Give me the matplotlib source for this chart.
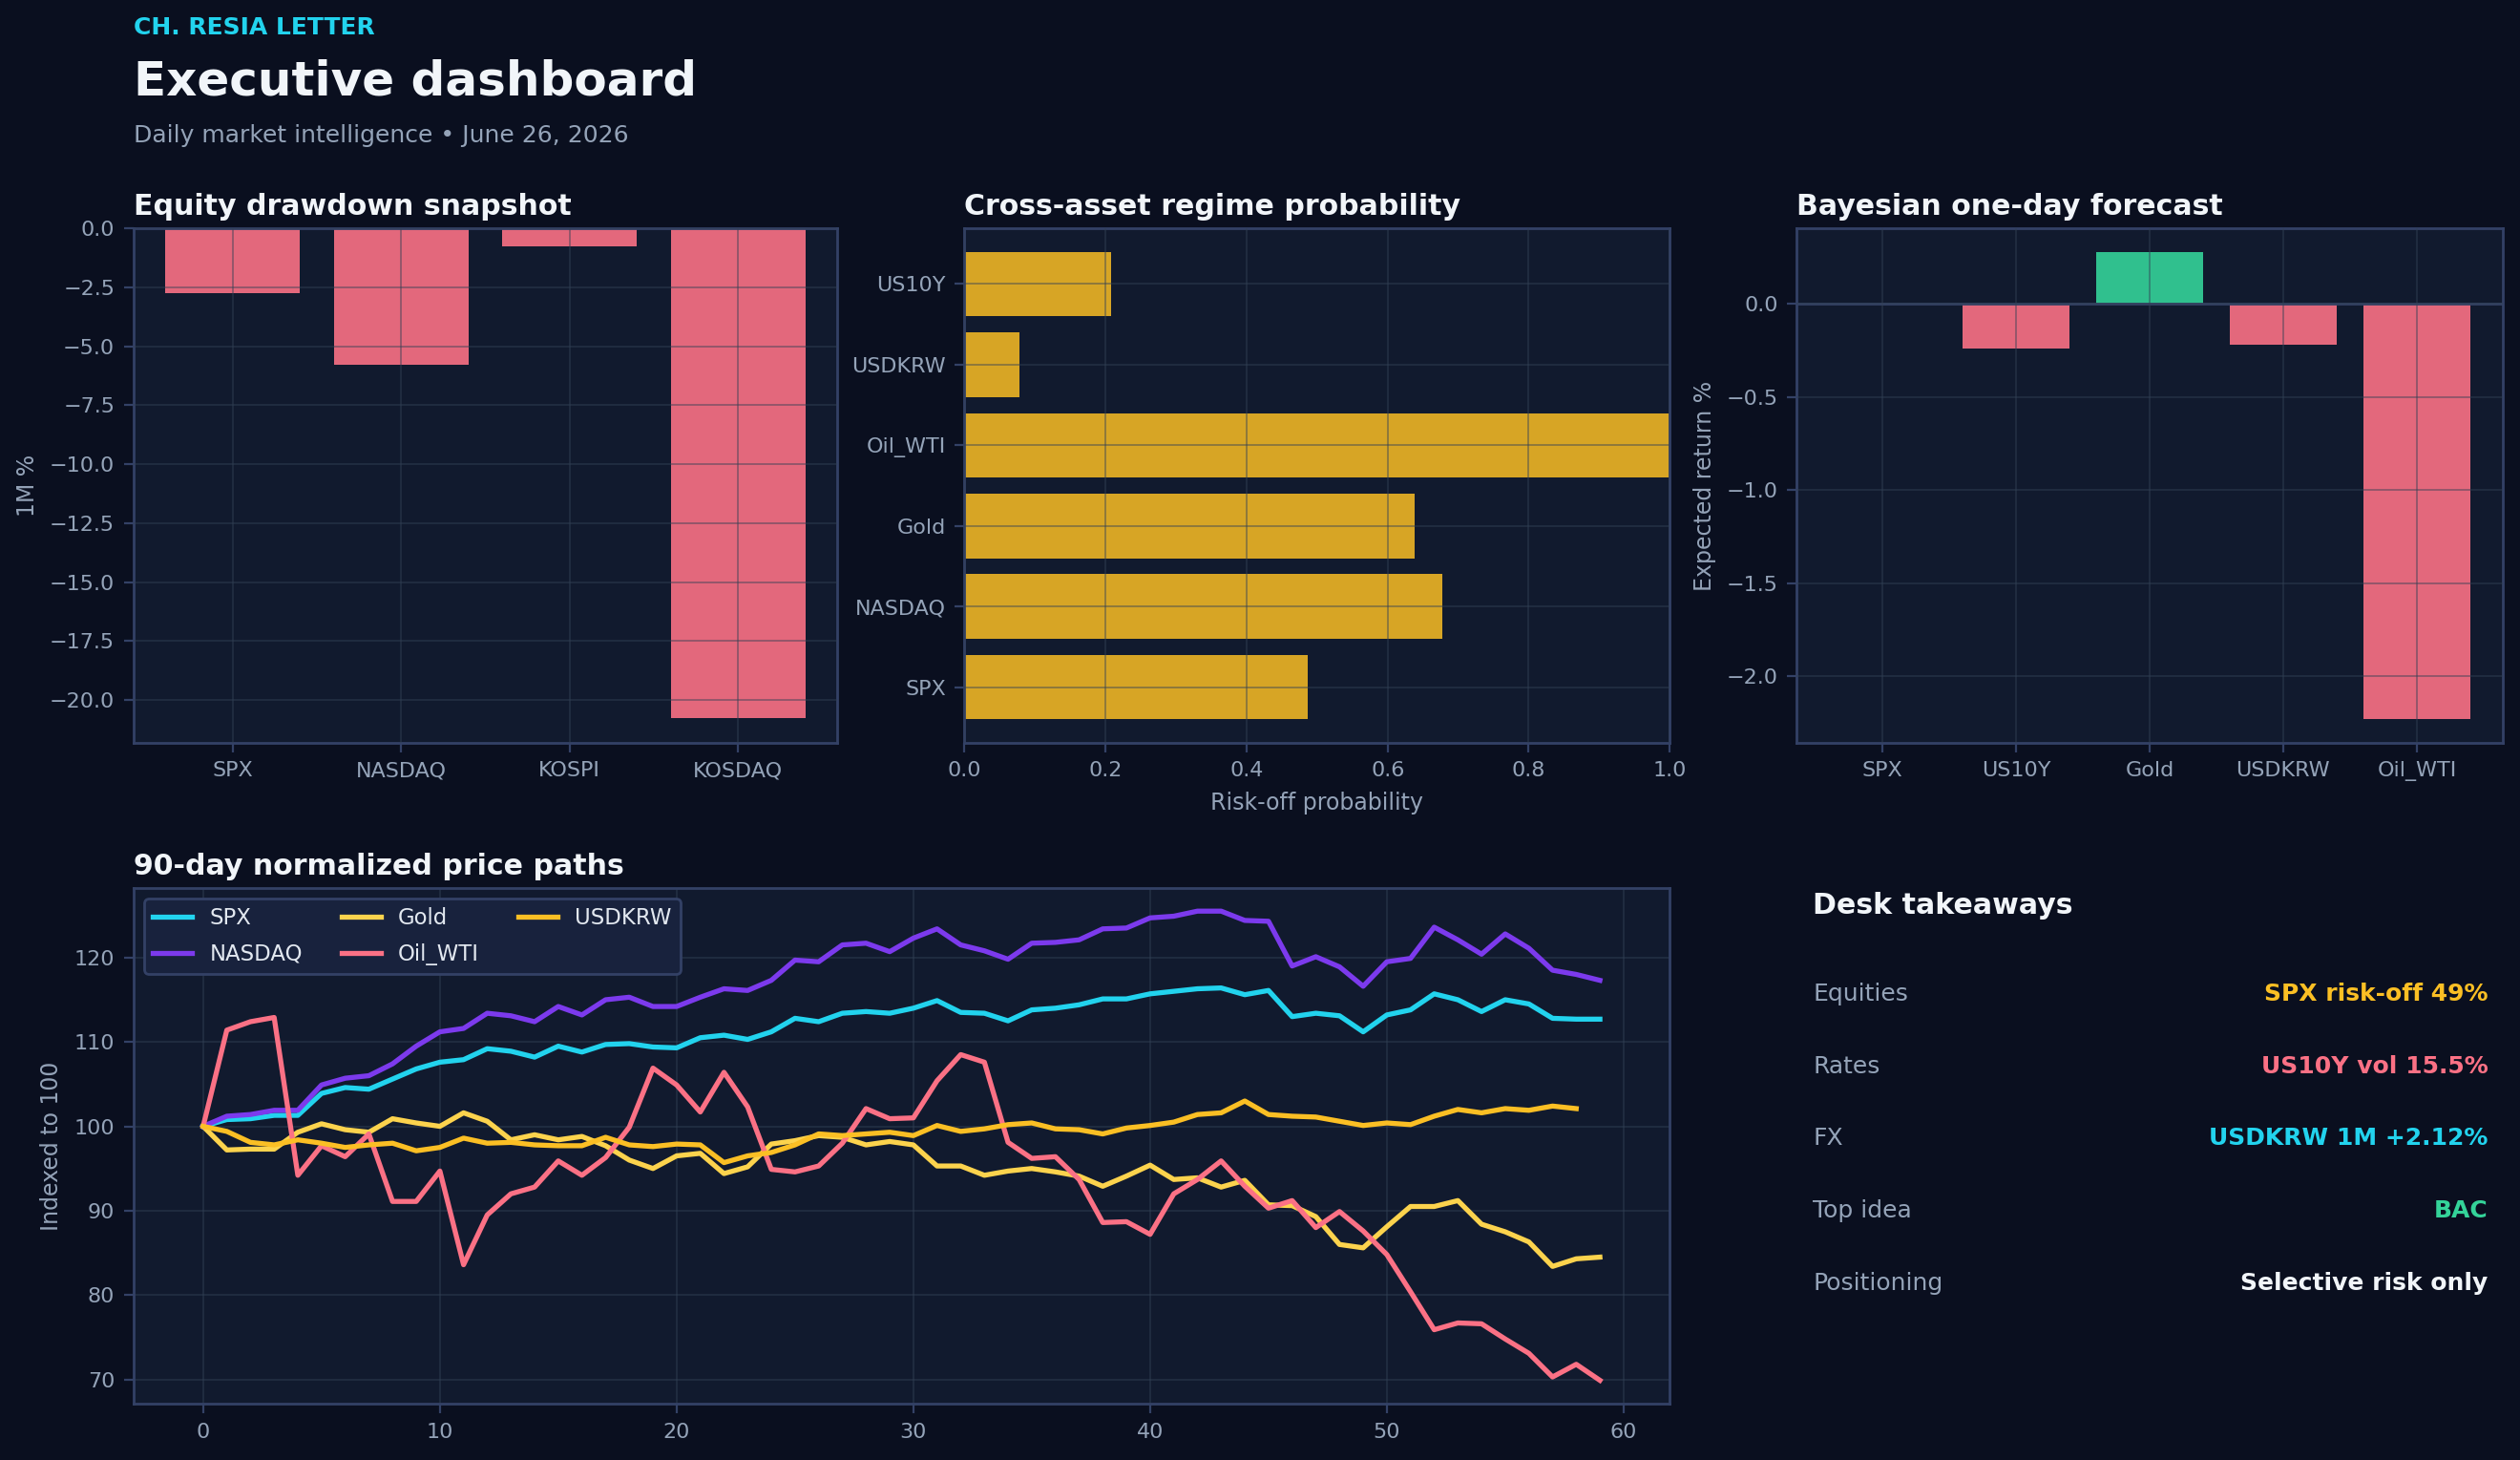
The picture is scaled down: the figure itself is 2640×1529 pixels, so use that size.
import numpy as np
import matplotlib
matplotlib.use("Agg")
import matplotlib.pyplot as plt

BG = "#0a0f1f"
PANEL = "#111a2e"
EDGE = "#334166"
GRID = "#334155"
MUTED = "#94a3b8"
TEXT = "#f1f5f9"

# --- data -------------------------------------------------------------
eq_names = ["SPX", "NASDAQ", "KOSPI", "KOSDAQ"]
eq_1m = [-2.74, -5.79, -0.76, -20.78]

regime_names = ["SPX", "NASDAQ", "Gold", "Oil_WTI", "USDKRW", "US10Y"]
regime_prob = [0.487, 0.678, 0.638, 1.0, 0.078, 0.208]

fc_names = ["SPX", "US10Y", "Gold", "USDKRW", "Oil_WTI"]
fc_ret = [0.003, -0.242, 0.280, -0.221, -2.231]

spx = [100.0, 100.8, 100.9, 101.3, 101.3, 103.9, 104.6, 104.4, 105.6, 106.8,
       107.6, 107.9, 109.2, 108.9, 108.2, 109.5, 108.8, 109.7, 109.8, 109.4,
       109.3, 110.5, 110.8, 110.3, 111.2, 112.8, 112.4, 113.4, 113.6, 113.4,
       114.0, 114.9, 113.5, 113.4, 112.5, 113.8, 114.0, 114.4, 115.1, 115.1,
       115.7, 116.0, 116.3, 116.4, 115.6, 116.1, 113.0, 113.4, 113.1, 111.2,
       113.2, 113.8, 115.7, 115.0, 113.6, 115.0, 114.5, 112.8, 112.7, 112.7]
nasdaq = [100.0, 101.2, 101.4, 101.9, 101.9, 104.9, 105.7, 106.0, 107.4, 109.5,
          111.2, 111.6, 113.4, 113.1, 112.4, 114.2, 113.2, 115.0, 115.3, 114.2,
          114.2, 115.3, 116.3, 116.1, 117.3, 119.7, 119.5, 121.5, 121.7, 120.7,
          122.3, 123.4, 121.5, 120.8, 119.8, 121.7, 121.8, 122.1, 123.4, 123.5,
          124.7, 124.9, 125.5, 125.5, 124.4, 124.3, 119.0, 120.1, 118.9, 116.6,
          119.5, 119.9, 123.6, 122.1, 120.4, 122.8, 121.1, 118.5, 118.0, 117.3]
gold = [100.0, 97.2, 97.3, 97.3, 99.3, 100.3, 99.6, 99.3, 100.9, 100.4,
        100.0, 101.6, 100.6, 98.4, 99.0, 98.4, 98.8, 97.7, 96.0, 95.0,
        96.5, 96.8, 94.4, 95.2, 97.9, 98.3, 98.9, 98.7, 97.8, 98.2,
        97.8, 95.3, 95.3, 94.2, 94.7, 95.0, 94.6, 94.1, 92.9, 94.1,
        95.4, 93.7, 93.9, 92.8, 93.6, 90.7, 90.6, 89.3, 86.0, 85.6,
        88.1, 90.5, 90.5, 91.2, 88.4, 87.5, 86.3, 83.4, 84.3, 84.5]
oil = [100.0, 111.4, 112.4, 112.9, 94.2, 97.7, 96.4, 99.1, 91.1, 91.1,
       94.7, 83.6, 89.5, 92.0, 92.8, 95.9, 94.2, 96.3, 99.9, 106.9,
       104.9, 101.7, 106.4, 102.3, 94.9, 94.6, 95.3, 98.0, 102.1, 100.9,
       101.0, 105.4, 108.5, 107.6, 98.1, 96.2, 96.4, 93.7, 88.6, 88.7,
       87.2, 92.0, 93.7, 95.9, 92.9, 90.3, 91.2, 88.0, 89.9, 87.6,
       84.8, 80.4, 75.9, 76.7, 76.6, 74.8, 73.1, 70.3, 71.8, 69.9]
usdkrw = [100.0, 99.4, 98.1, 97.8, 98.4, 98.0, 97.5, 97.8, 98.0, 97.1,
          97.5, 98.6, 98.0, 98.1, 97.8, 97.7, 97.7, 98.7, 97.8, 97.6,
          97.9, 97.8, 95.7, 96.5, 96.9, 97.8, 99.1, 98.9, 99.1, 99.3,
          98.9, 100.1, 99.4, 99.7, 100.2, 100.4, 99.7, 99.6, 99.1, 99.8,
          100.1, 100.5, 101.4, 101.6, 103.0, 101.4, 101.2, 101.1, 100.6, 100.1,
          100.4, 100.2, 101.2, 102.0, 101.6, 102.1, 101.9, 102.4, 102.1]

takeaway_keys = ["Equities", "Rates", "FX", "Top idea", "Positioning"]
takeaway_vals = ["SPX risk-off 49%", "US10Y vol 15.5%", "USDKRW 1M +2.12%", "BAC", "Selective risk only"]
takeaway_cols = ["#fbbf24", "#fb7185", "#22d3ee", "#34d399", TEXT]

# --- figure -----------------------------------------------------------
fig = plt.figure(figsize=(13.2, 7.645), dpi=200, facecolor=BG)


def style(ax, title):
    ax.set_facecolor(PANEL)
    for s in ax.spines.values():
        s.set_color(EDGE)
        s.set_linewidth(1.0)
    ax.tick_params(colors=MUTED, labelsize=8, color=EDGE)
    ax.grid(True, color=GRID, alpha=0.45, linewidth=0.7)
    ax.set_axisbelow(False)
    ax.set_title(title, loc="left", color=TEXT, fontsize=10.8, fontweight="bold", pad=5)


fig.text(0.053, 0.981, "CH. RESIA LETTER", color="#22d3ee", fontsize=9,
         fontweight="bold", va="center")
fig.text(0.053, 0.944, "Executive dashboard", color=TEXT, fontsize=18,
         fontweight="bold", va="center")
fig.text(0.053, 0.907, "Daily market intelligence \u2022 June 26, 2026", color=MUTED,
         fontsize=9, va="center")

# equity drawdown
ax1 = fig.add_axes([0.0529, 0.4912, 0.2794, 0.3524])
style(ax1, "Equity drawdown snapshot")
ax1.bar(eq_names, eq_1m, color="#fb7185", alpha=0.9, width=0.8)
ax1.set_ylabel("1M %", color=MUTED, fontsize=8.5)

# regime probability
ax2 = fig.add_axes([0.3827, 0.4912, 0.2799, 0.3524])
style(ax2, "Cross-asset regime probability")
ax2.barh(regime_names, regime_prob, color="#fbbf24", alpha=0.85, height=0.8)
ax2.set_xlim(0, 1)
ax2.set_xlabel("Risk-off probability", color=MUTED, fontsize=8.5)

# forecast
ax3 = fig.add_axes([0.7130, 0.4912, 0.2800, 0.3524])
style(ax3, "Bayesian one-day forecast")
cols = ["#34d399" if v >= 0 else "#fb7185" for v in fc_ret]
ax3.bar(fc_names, fc_ret, color=cols, alpha=0.9, width=0.8)
ax3.axhline(0, color=EDGE, linewidth=1.0)
ax3.set_ylabel("Expected return %", color=MUTED, fontsize=8.5)

# price paths
ax4 = fig.add_axes([0.0529, 0.0385, 0.6097, 0.3535])
style(ax4, "90-day normalized price paths")
ax4.set_axisbelow(True)
lw = 1.9
ax4.plot(np.arange(len(spx)), spx, color="#22d3ee", lw=lw, label="SPX")
ax4.plot(np.arange(len(nasdaq)), nasdaq, color="#7c3aed", lw=lw, label="NASDAQ")
ax4.plot(np.arange(len(gold)), gold, color="#fcd34d", lw=lw, label="Gold")
ax4.plot(np.arange(len(oil)), oil, color="#fb7185", lw=lw, label="Oil_WTI")
ax4.plot(np.arange(len(usdkrw)), usdkrw, color="#fbbf24", lw=lw, label="USDKRW")
ax4.set_ylabel("Indexed to 100", color=MUTED, fontsize=8.5)
leg = ax4.legend(loc="upper left", ncol=3, fontsize=8.2, facecolor="#18223d",
                 edgecolor=EDGE, framealpha=1.0, labelcolor="#e2e8f0",
                 labelspacing=0.65, handlelength=1.8, columnspacing=1.8)

# takeaways
ax5 = fig.add_axes([0.7130, 0.0385, 0.2800, 0.3535])
ax5.set_facecolor(BG)
ax5.axis("off")
ax5.text(0.023, 0.966, "Desk takeaways", color=TEXT, fontsize=10.8,
         fontweight="bold", va="center", transform=ax5.transAxes)
for i, (k, v, c) in enumerate(zip(takeaway_keys, takeaway_vals, takeaway_cols)):
    y = 0.794 - i * 0.14
    ax5.text(0.023, y, k, color=MUTED, fontsize=9, va="center", transform=ax5.transAxes)
    ax5.text(0.98, y, v, color=c, fontsize=9, fontweight="bold", va="center",
             ha="right", transform=ax5.transAxes)

fig.savefig("out.png", dpi=200, facecolor=BG)
